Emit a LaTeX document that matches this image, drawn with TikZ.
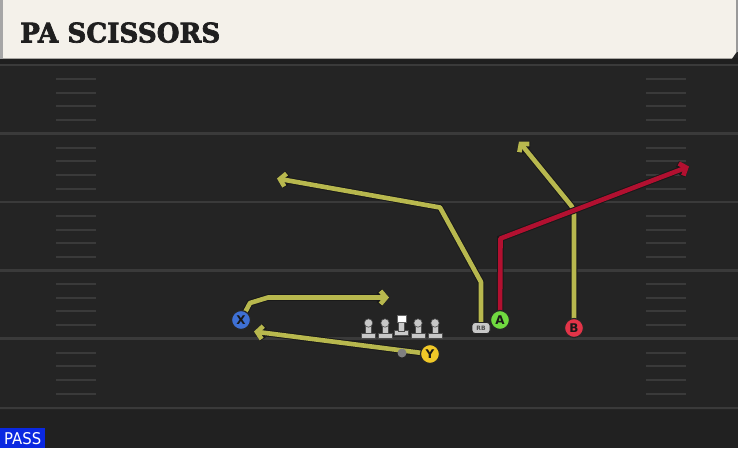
\documentclass[tikz,border=0pt]{standalone}
\usepackage{fontspec}
\usetikzlibrary{arrows.meta}
\newfontfamily\titlefont{DejaVu Serif}[FakeBold=2.5]
\newfontfamily\lblfont{DejaVu Sans}
\definecolor{fieldc}{RGB}{36,36,36}
\definecolor{yardc}{RGB}{58,58,58}
\definecolor{hashc}{RGB}{58,58,58}
\definecolor{headc}{RGB}{244,241,234}
\definecolor{rtyel}{RGB}{184,184,78}
\definecolor{rtred}{RGB}{178,16,48}
\definecolor{pblue}{RGB}{62,112,212}
\definecolor{pyel}{RGB}{240,200,40}
\definecolor{pgreen}{RGB}{112,218,64}
\definecolor{pred}{RGB}{226,52,72}
\definecolor{linec}{RGB}{200,200,200}
\definecolor{passc}{RGB}{10,40,225}
\pgfdeclarelayer{bg}
\pgfdeclarelayer{routes}
\pgfsetlayers{bg,routes,main}
\tikzset{
  route/.style={draw=#1, line width=4.6pt, line join=round,
    -{Straight Barb[length=5.5pt,width=13pt]},
    preaction={draw=black!90, line width=6.6pt}},
  player/.style={circle, draw=black!85, line width=1.2pt, fill=#1, minimum size=19pt,
    inner sep=0pt, font=\lblfont\bfseries\fontsize{12}{12}\selectfont, text=black!90},
  rbbox/.style={rounded corners=3pt, draw=black!85, line width=0.9pt, fill=linec,
    minimum width=18pt, minimum height=11pt, inner sep=0pt,
    font=\lblfont\bfseries\fontsize{6}{6}\selectfont, text=black!70},
  hashmk/.style={draw=hashc, line width=2pt},
  yardln/.style={draw=yardc, line width=2.4pt},
  lman/.style={fill=linec, draw=black!70, line width=0.6pt},
  lineman/.pic={
    \path[lman] (-7,10) rectangle (7,15);
    \path[lman] (-2.8,0) rectangle (2.8,10.5);
    \path[lman] (0,0) circle (4.2);
  },
  centerman/.pic={
    \path[lman] (-7,8) rectangle (7,13);
    \path[lman] (-2.8,0) rectangle (2.8,8.5);
    \path[fill=white, draw=black!60, line width=0.8pt] (-4.5,-7.5) rectangle (4.5,0);
  }
}
\begin{document}
\begin{tikzpicture}[x=1pt,y=-1pt]
\useasboundingbox (0,0) rectangle (738,448);
\begin{pgfonlayer}{bg}
  \fill[fieldc] (0,0) rectangle (738,448);
  \fill[black!88] (0,410) rectangle (738,448);
  \fill[fieldc!92!black] (0,410) rectangle (738,448);
  % yard lines and hash marks
  \foreach \yy in {65,133.6,202,270.4,338.6,408} {
    \draw[yardln] (0,\yy) -- (738,\yy);
  }
  \foreach \yy in {65,133.6,202,270.4,338.6} {
    \foreach \dd in {14,27.5,41,55} {
      \draw[hashmk] (56,\yy+\dd) -- (96,\yy+\dd);
      \draw[hashmk] (646,\yy+\dd) -- (686,\yy+\dd);
    }
  }
  % header
  \fill[black!88] (0,58) rectangle (738,64);
  \fill[headc] (0,0) -- (738,0) -- (738,50) -- (732,58.5) -- (0,58.5) -- cycle;
  \fill[black!35] (0,0) rectangle (2.5,58.5);
  \fill[black!40] (736,0) rectangle (738,52);
  \node[anchor=south west, inner sep=0pt, text=black!88] (title) at (20,43)
    {\resizebox{200pt}{20pt}{\titlefont\bfseries PA SCISSORS}};
  % PASS label
  \fill[passc] (0,428) rectangle (45,448);
  \node[anchor=south west, inner sep=0pt, text=white] (pass) at (4,445)
    {\resizebox{37pt}{12pt}{\lblfont PASS}};
\end{pgfonlayer}

% players
\node[player=pblue] (X) at (241,320) {X};
\node[player=pyel] (Y) at (430,354) {Y};
\node[player=pgreen] (A) at (500,320) {A};
\node[player=pred] (B) at (574,328) {B};
\node[rbbox] (RB) at (481,328) {RB};
\node[circle, fill=black!50, minimum size=9pt, inner sep=0pt] (QB) at (402,353) {};

% offensive line
\pic at (368.5,323) {lineman};
\pic at (385,323) {lineman};
\pic at (401.5,322.5) {centerman};
\pic at (418,323) {lineman};
\pic at (435,323) {lineman};

% routes
\coordinate (x1) at (250,303);
\coordinate (x2) at (268,297.5);
\coordinate (xe) at (389,297.5);
\coordinate (ye) at (254,331.5);
\coordinate (r1) at (481,282);
\coordinate (r2) at (440,207.5);
\coordinate (re) at (277,178.5);
\coordinate (a1) at (500.5,238.5);
\coordinate (ae) at (689,166.5);
\coordinate (b1) at (574,209);
\coordinate (be) at (519,141.5);
\begin{pgfonlayer}{routes}
  \draw[route=rtyel] (X.center) -- (x1) -- (x2) -- (xe);
  \draw[route=rtyel] (Y.center) -- (ye);
  \draw[route=rtyel] (RB.center) -- (r1) -- (r2) -- (re);
  \draw[route=rtyel, rounded corners=5pt] (B.center) -- (b1) -- (be);
  \draw[route=rtred] (A.center) -- (a1) -- (ae);
\end{pgfonlayer}
\end{tikzpicture}
\end{document}
